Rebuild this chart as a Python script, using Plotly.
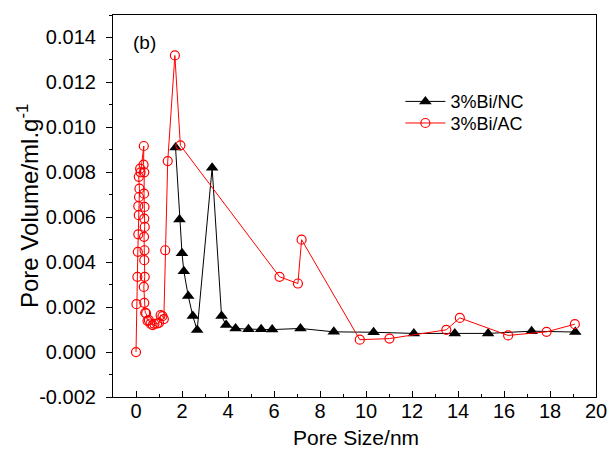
import plotly.graph_objects as go

# 3%Bi/NC series
nc_x = [1.72, 1.89, 2.00, 2.08, 2.27, 2.47, 2.66, 3.31, 3.72, 3.92, 4.33, 4.89, 5.44, 5.92,
        7.15, 8.60, 10.33, 12.08, 13.86, 15.31, 17.20, 19.10]
nc_y = [0.0091, 0.0059, 0.0044, 0.0036, 0.0025, 0.0016, 0.00098, 0.0082, 0.0016, 0.0012,
        0.00105, 0.00102, 0.00102, 0.0010, 0.00105, 0.0009, 0.00088, 0.00083, 0.00083,
        0.00083, 0.00093, 0.00089]

# 3%Bi/AC series
ac_x = [0.00, 0.02, 0.06, 0.08, 0.10, 0.12, 0.10, 0.13, 0.15, 0.12, 0.18, 0.20,
        0.34, 0.33, 0.36, 0.35, 0.37, 0.36, 0.38, 0.35, 0.37, 0.36, 0.38, 0.34, 0.36,
        0.40, 0.44, 0.50, 0.56, 0.63, 0.72, 0.80, 0.92, 1.00, 1.07, 1.15, 1.21,
        1.27, 1.38, 1.69, 1.93, 6.24, 7.04, 7.20, 9.73, 11.02, 13.49, 14.08, 16.18,
        17.85, 19.08]
ac_y = [0.0000, 0.00213, 0.00335, 0.00446, 0.00524, 0.00609, 0.00649, 0.0069, 0.00727,
        0.0078, 0.00816, 0.0080,
        0.00917, 0.00834, 0.0080, 0.00705, 0.00646, 0.00594, 0.00557, 0.00513, 0.00453,
        0.00409, 0.00335, 0.0029, 0.00219,
        0.00175, 0.00172, 0.00139, 0.00142, 0.00127, 0.0012, 0.00125, 0.00127, 0.0013,
        0.00164, 0.0016, 0.00147,
        0.00453, 0.0085, 0.0132, 0.0092, 0.00335, 0.00305, 0.0050, 0.00055, 0.0006,
        0.00099, 0.00152, 0.00074, 0.0009, 0.00124]

x_ticks = [0, 2, 4, 6, 8, 10, 12, 14, 16, 18, 20]
y_ticks = [-0.002, 0.000, 0.002, 0.004, 0.006, 0.008, 0.010, 0.012, 0.014]
y_tick_labels = ["-0.002", "0.000", "0.002", "0.004", "0.006", "0.008", "0.010", "0.012", "0.014"]

FONT = "Arial, Liberation Sans, sans-serif"

fig = go.Figure()
fig.add_trace(go.Scatter(
    x=nc_x, y=nc_y, name="3%Bi/NC", mode="lines+markers", legend="legend",
    line=dict(color="black", width=1),
    marker=dict(symbol="triangle-up", size=11, color="black"),
))
fig.add_trace(go.Scatter(
    x=ac_x, y=ac_y, name="3%Bi/AC", mode="lines+markers", legend="legend2",
    line=dict(color="#ff0000", width=1),
    marker=dict(symbol="circle-open", size=9, color="#ff0000", line=dict(width=1.2)),
))

legend_common = dict(xanchor="left", yanchor="middle", bgcolor="rgba(0,0,0,0)",
                     font=dict(size=18, family=FONT), itemwidth=40)

fig.update_layout(
    width=608, height=457,
    margin=dict(l=113, r=12, t=15, b=60, autoexpand=False),
    paper_bgcolor="white", plot_bgcolor="white",
    font=dict(family=FONT, size=20, color="black"),
    showlegend=True,
    legend=dict(x=0.595, y=0.773, **legend_common),
    legend2=dict(x=0.595, y=0.7165, **legend_common),
    annotations=[
        dict(text="(b)", x=0.037, y=0.929, xref="paper", yref="paper",
             xanchor="left", yanchor="middle", showarrow=False,
             font=dict(size=19, family=FONT)),
        dict(text="Pore Size/nm", x=0.503, y=-0.107, xref="paper", yref="paper",
             xanchor="center", yanchor="middle", showarrow=False,
             font=dict(size=21, family=FONT)),
        dict(text="Pore Volume/ml.g<sup>-1</sup>", x=-0.176, y=0.50, xref="paper", yref="paper",
             xanchor="center", yanchor="middle", showarrow=False, textangle=-90,
             font=dict(size=24, family=FONT)),
    ],
)
fig.update_xaxes(
    range=[-1, 20], tickvals=x_ticks, ticks="inside", ticklen=6, tickwidth=1,
    tickcolor="black", showline=True, linecolor="black", linewidth=1.2, mirror=True,
    showgrid=False, zeroline=False, automargin=False, ticklabelstandoff=-4,
    minor=dict(dtick=1, tick0=1, ticks="inside", ticklen=3, tickcolor="black"),
    tickfont=dict(size=20, family=FONT),
)
fig.update_yaxes(
    range=[-0.002, 0.015], tickvals=y_ticks, ticktext=y_tick_labels, ticks="outside",
    ticklen=6, tickwidth=1, tickcolor="black", showline=True, linecolor="black",
    linewidth=1.2, mirror=True, showgrid=False, zeroline=False, automargin=False,
    ticklabelstandoff=6,
    minor=dict(dtick=0.001, tick0=0.001, ticks="outside", ticklen=3, tickcolor="black"),
    tickfont=dict(size=20, family=FONT),
)

fig.write_html("out.html", config={"displayModeBar": False},
               post_script="document.body.style.margin='0';document.body.style.overflow='hidden';")
